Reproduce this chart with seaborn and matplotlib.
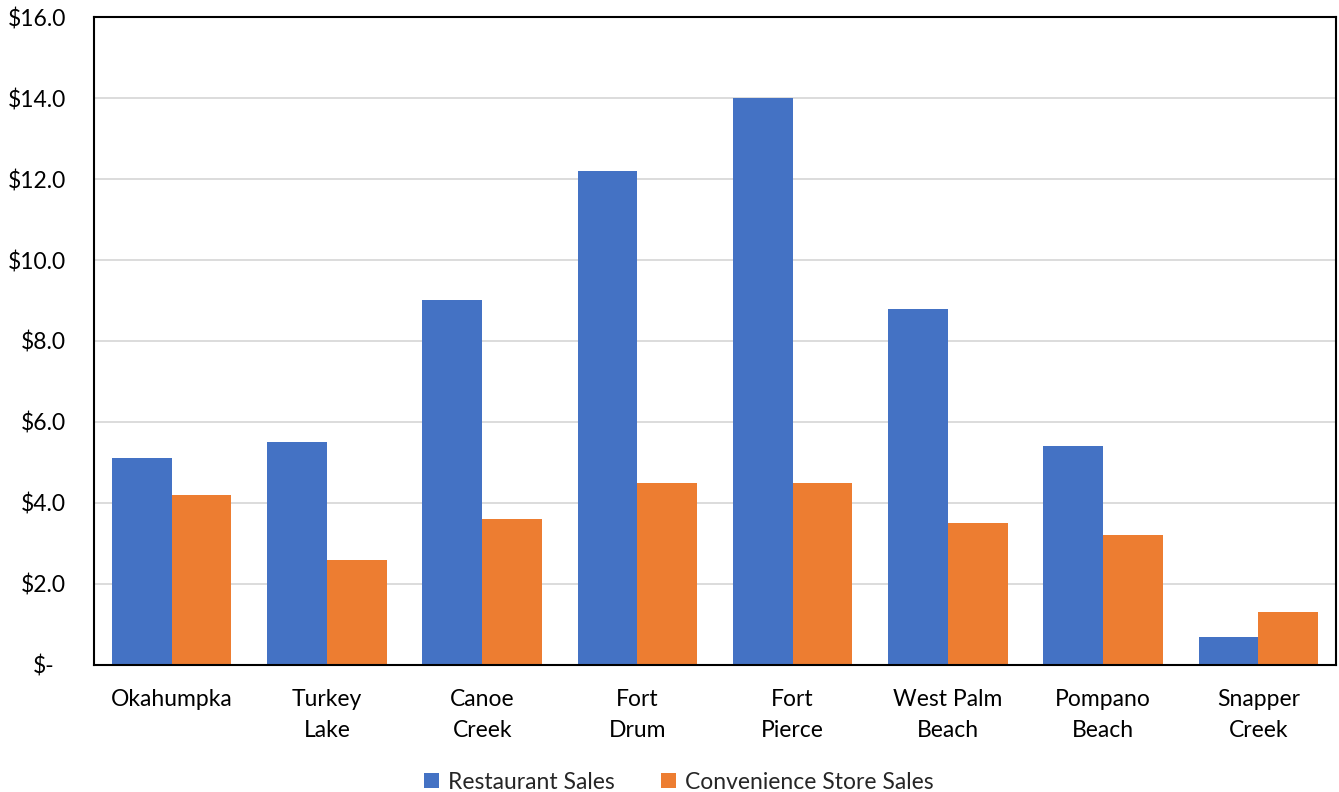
import matplotlib
matplotlib.use("Agg")
import matplotlib.pyplot as plt
import matplotlib.transforms as mtransforms
from matplotlib.patches import Patch
import seaborn as sns
import pandas as pd

categories = ["Okahumpka", "Turkey\nLake", "Canoe\nCreek", "Fort\nDrum", "Fort\nPierce",
              "West Palm\nBeach", "Pompano\nBeach", "Snapper\nCreek"]
restaurant_sales = [5.1, 5.5, 9.0, 12.2, 14.0, 8.8, 5.4, 0.7]
convenience_sales = [4.2, 2.6, 3.6, 4.5, 4.5, 3.5, 3.2, 1.3]
series_names = ["Restaurant Sales", "Convenience Store Sales"]
colors = ["#4472C4", "#ED7D31"]
y_ticks = [0, 2, 4, 6, 8, 10, 12, 14, 16]
y_tick_labels = ["$-", "$2.0", "$4.0", "$6.0", "$8.0", "$10.0", "$12.0", "$14.0", "$16.0"]

df = pd.DataFrame({
    "Location": categories * 2,
    "Series": [series_names[0]] * len(categories) + [series_names[1]] * len(categories),
    "Value": restaurant_sales + convenience_sales,
})

sns.set_style("white")
plt.rcParams["font.family"] = ["Lato", "DejaVu Sans"]

fig = plt.figure(figsize=(13.39, 7.92), dpi=100)
ax = fig.add_axes([0.0702, 0.1604, 0.9276, 0.8181])

sns.barplot(data=df, x="Location", y="Value", hue="Series", palette=colors,
            width=0.77, gap=0, saturation=1, ax=ax, legend=False, errorbar=None,
            linewidth=0)

FS = 16.5
ax.set_ylim(0, 16)
ax.set_xlim(-0.5, len(categories) - 0.5)
ax.set_yticks(y_ticks)
ax.set_yticklabels(y_tick_labels)
ax.set_xlabel("")
ax.set_ylabel("")
ax.yaxis.grid(True, color="#D9D9D9", linewidth=1.3)
ax.set_axisbelow(True)
for s in ax.spines.values():
    s.set_visible(True)
    s.set_color("black")
    s.set_linewidth(1.5)

ax.tick_params(axis="y", length=0, pad=20, labelsize=FS, colors="black")
ax.tick_params(axis="x", length=0, pad=17.5, labelsize=FS, colors="black")
for lbl in ax.get_xticklabels():
    lbl.set_linespacing(1.55)

# offset "$-" label like accounting format
zero_lbl = ax.get_yticklabels()[0]
zero_lbl.set_transform(zero_lbl.get_transform() +
                       mtransforms.ScaledTranslation(-12 / 100, 0, fig.dpi_scale_trans))

handles = [Patch(facecolor=c, edgecolor="none") for c in colors]
fig.legend(handles, series_names, loc="lower center", bbox_to_anchor=(0.507, -0.027),
           ncol=2, frameon=False, fontsize=FS, handlelength=0.65, handleheight=0.65,
           handletextpad=0.4, columnspacing=2.0)

fig.savefig("out.png", dpi=100)
